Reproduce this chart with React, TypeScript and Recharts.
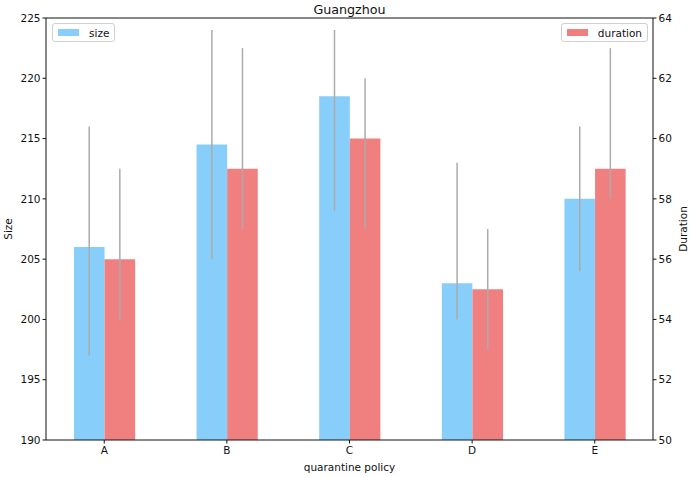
import React from "react";
import {
  Bar,
  BarChart,
  ErrorBar,
  ReferenceLine,
  XAxis,
  YAxis,
} from "recharts";

const categories = ["A", "B", "C", "D", "E"];
const sizeMean = [206, 214.5, 218.5, 203, 210];
const sizeLow = [197, 205, 209, 200, 204];
const sizeHigh = [216, 224, 224, 213, 216];
const durationMean = [56, 59, 60, 55, 59];
const durationLow = [54, 57, 57, 53, 58];
const durationHigh = [59, 63, 62, 57, 63];

const sizeTicks = [190, 195, 200, 205, 210, 215, 220, 225];
const durationTicks = [50, 52, 54, 56, 58, 60, 62, 64];

const FONT = "'DejaVu Sans', sans-serif";
const SIZE_COLOR = "#87CEFA";
const DURATION_COLOR = "#F08080";
const ERR_COLOR = "#ababab";

const data = categories.map((name, i) => ({
  name,
  pos: i,
  size: sizeMean[i],
  sizeErr: [sizeMean[i] - sizeLow[i], sizeHigh[i] - sizeMean[i]],
  duration: durationMean[i],
  durationErr: [durationMean[i] - durationLow[i], durationHigh[i] - durationMean[i]],
}));

const tickStyle = { fontSize: 10.5, fill: "#111", fontFamily: FONT };

const LegendBox = (props: { left?: number; right?: number; color: string; label: string }) => {
  const { left, right, color, label } = props;
  return (
    <div
      style={{
        position: "absolute",
        top: 23,
        left,
        right,
        height: 19,
        border: "1px solid #d0d0d0",
        borderRadius: 3,
        background: "rgba(255,255,255,0.8)",
        display: "flex",
        alignItems: "center",
        padding: "0 5px",
        boxSizing: "border-box",
        fontFamily: FONT,
        fontSize: 10.5,
        color: "#111",
      }}
    >
      <span style={{ width: 21, height: 7, background: color, marginRight: 10 }} />
      {label}
    </div>
  );
};

export default function App() {
  return (
    <div
      style={{
        position: "absolute",
        left: 0,
        top: 0,
        width: 692,
        height: 477,
        background: "#fff",
        fontFamily: FONT,
      }}
    >
      <BarChart
        width={692}
        height={477}
        data={data}
        barGap={0}
        margin={{ top: 18, right: 3, left: 6, bottom: 0 }}
      >
        <XAxis
          dataKey="pos"
          type="number"
          domain={[-0.475, 4.475]}
          ticks={[0, 1, 2, 3, 4]}
          tickFormatter={(v: number) => categories[v]}
          height={37}
          tick={tickStyle}
          tickSize={3.5}
          tickMargin={3}
          stroke="#111"
          allowDataOverflow
        />
        <YAxis
          yAxisId="size"
          domain={[190, 225]}
          ticks={sizeTicks}
          width={40}
          tick={tickStyle}
          tickSize={3.5}
          tickMargin={2}
          stroke="#111"
          allowDataOverflow
        />
        <YAxis
          yAxisId="duration"
          orientation="right"
          domain={[50, 64]}
          ticks={durationTicks}
          width={36}
          tick={tickStyle}
          tickSize={3.5}
          tickMargin={2}
          stroke="#111"
          allowDataOverflow
        />
        <ReferenceLine yAxisId="size" y={225} stroke="#111" />
        <Bar
          yAxisId="size"
          dataKey="size"
          fill={SIZE_COLOR}
          barSize={30.6}
          isAnimationActive={false}
        >
          <ErrorBar dataKey="sizeErr" width={0} stroke={ERR_COLOR} strokeWidth={1.5} direction="y" />
        </Bar>
        <Bar
          yAxisId="duration"
          dataKey="duration"
          fill={DURATION_COLOR}
          barSize={30.6}
          isAnimationActive={false}
        >
          <ErrorBar dataKey="durationErr" width={0} stroke={ERR_COLOR} strokeWidth={1.5} direction="y" />
        </Bar>
      </BarChart>

      <div
        style={{
          position: "absolute",
          left: 349.5,
          top: 9,
          transform: "translate(-50%, -50%)",
          fontSize: 12.7,
          color: "#111",
          whiteSpace: "nowrap",
        }}
      >
        Guangzhou
      </div>
      <div
        style={{
          position: "absolute",
          left: 349.5,
          top: 467,
          transform: "translate(-50%, -50%)",
          fontSize: 10.5,
          color: "#111",
          whiteSpace: "nowrap",
        }}
      >
        quarantine policy
      </div>
      <div
        style={{
          position: "absolute",
          left: 8,
          top: 229,
          transform: "translate(-50%, -50%) rotate(-90deg)",
          fontSize: 10.5,
          color: "#111",
          whiteSpace: "nowrap",
        }}
      >
        Size
      </div>
      <div
        style={{
          position: "absolute",
          left: 683,
          top: 229,
          transform: "translate(-50%, -50%) rotate(-90deg)",
          fontSize: 10.5,
          color: "#111",
          whiteSpace: "nowrap",
        }}
      >
        Duration
      </div>

      <LegendBox left={52} color={SIZE_COLOR} label="size" />
      <LegendBox right={692 - 648} color={DURATION_COLOR} label="duration" />
    </div>
  );
}
